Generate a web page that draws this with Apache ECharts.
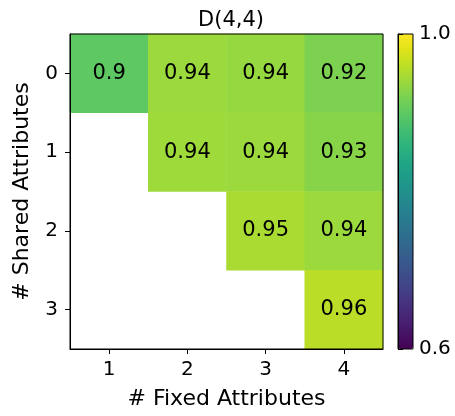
<!DOCTYPE html>
<html>
<head>
<meta charset="utf-8">
<script src="https://cdn.jsdelivr.net/npm/echarts@6/dist/echarts.min.js"></script>
<style>
  html, body { margin: 0; padding: 0; background: #fff; }
  #main { width: 455px; height: 416px; }
</style>
</head>
<body>
<div id="main"></div>
<script>
// 数据 (按颜色估计的未取整值, 标签显示两位小数)
var fixedAttrs = ['1', '2', '3', '4'];
var sharedAttrs = ['0', '1', '2', '3'];
// 每行对应一个 shared 值, null 表示空白
var row0 = [0.900, 0.940, 0.937, 0.921];
var row1 = [null, 0.942, 0.940, 0.928];
var row2 = [null, null, 0.948, 0.940];
var row3 = [null, null, null, 0.958];
var rows = [row0, row1, row2, row3];
var colorbarTicks = [0.6, 1.0];

var viridis = ['#440154', '#471365', '#482475', '#463480', '#414487', '#3b528b',
  '#355f8d', '#2f6c8e', '#2a788e', '#25848e', '#21918c', '#1e9c89', '#22a884',
  '#2fb47c', '#44bf70', '#5ec962', '#7ad151', '#9bd93c', '#bddf26', '#dfe318', '#fde725'];

var heatData = [];
rows.forEach(function (row, y) {
    row.forEach(function (v, x) {
        if (v !== null) heatData.push([x, y, v]);
    });
});

var font = 'DejaVu Sans';
var black = { color: '#000' };

var myChart = echarts.init(document.getElementById('main'));
var option = {
    textStyle: { fontFamily: font },
    title: {
        text: 'D(4,4)',
        left: 226, top: 5, textAlign: 'center',
        textStyle: { color: '#000', fontSize: 21, fontWeight: 'normal', fontFamily: font }
    },
    grid: [
        { left: 70, top: 34, width: 313, height: 315, show: true, z: 8,
          borderColor: '#000', borderWidth: 1, backgroundColor: 'transparent' },
        { left: 398, top: 34, width: 15, height: 315, show: true, z: 8,
          borderColor: '#000', borderWidth: 1, backgroundColor: 'transparent' }
    ],
    xAxis: [{
        type: 'category', data: fixedAttrs, gridIndex: 0, z: 10,
        name: '# Fixed Attributes', nameLocation: 'middle', nameGap: 39,
        nameTextStyle: { color: '#000', fontSize: 22 },
        axisLine: { show: true, lineStyle: black },
        axisTick: { show: true, alignWithLabel: true, length: 5, lineStyle: black },
        axisLabel: { color: '#000', fontSize: 20, margin: 11 },
        splitLine: { show: false }
    }, {
        type: 'value', gridIndex: 1, show: false
    }],
    yAxis: [{
        type: 'category', data: sharedAttrs, gridIndex: 0, inverse: true, z: 10,
        name: '# Shared Attributes', nameLocation: 'middle', nameGap: 37,
        nameTextStyle: { color: '#000', fontSize: 22 },
        axisLine: { show: true, lineStyle: black },
        axisTick: { show: true, alignWithLabel: true, length: 5, lineStyle: black },
        axisLabel: { color: '#000', fontSize: 20, margin: 12 },
        splitLine: { show: false }
    }, {
        type: 'value', gridIndex: 1, position: 'right', z: 10,
        min: colorbarTicks[0], max: colorbarTicks[1], interval: 0.4,
        axisLine: { show: true, lineStyle: black },
        axisTick: { show: true, length: 5, lineStyle: black },
        axisLabel: { color: '#000', fontSize: 20, margin: 6,
            formatter: function (v) { return v.toFixed(1); } },
        splitLine: { show: false }
    }],
    visualMap: {
        type: 'continuous',
        min: colorbarTicks[0], max: colorbarTicks[1],
        seriesIndex: 0,
        orient: 'vertical',
        left: 398, top: 34,
        padding: 0,
        z: 1,
        itemWidth: 15, itemHeight: 315,
        calculable: false,
        showLabel: false,
        text: null,
        inRange: { color: viridis }
    },
    series: [{
        type: 'heatmap',
        xAxisIndex: 0, yAxisIndex: 0,
        z: 1,
        data: heatData,
        label: {
            show: true, color: '#000', fontSize: 21, fontFamily: font,
            formatter: function (p) { return String(Math.round(p.value[2] * 100) / 100); }
        },
        emphasis: { disabled: true }
    }]
};
myChart.setOption(option);
</script>
</body>
</html>
